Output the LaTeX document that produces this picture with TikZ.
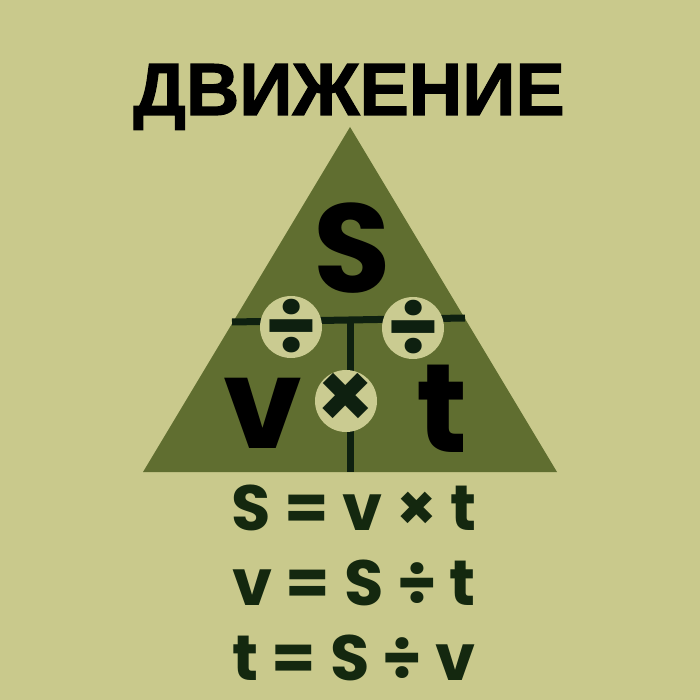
\documentclass[tikz,border=0pt]{standalone}
\usepackage{fontspec}
\newfontfamily\pop{Poppins}
\newfontfamily\libb{Liberation Sans Bold}[FakeBold=1.6]
\definecolor{bg}{HTML}{C9C98C}
\definecolor{tric}{HTML}{606E30}
\definecolor{lightc}{HTML}{CACB91}
\definecolor{dark}{HTML}{0E2010}
\definecolor{ftext}{HTML}{14280F}
\tikzset{
  bar/.style={draw=dark, line width=7pt},
  opc/.style={circle, fill=lightc, minimum size=62pt, inner sep=0pt},
  opsym/.style={inner sep=0pt, text=dark, font=\pop\bfseries\fontsize{84}{84}\selectfont},
  bigletter/.style={anchor=base, inner sep=0pt, text=black, font=\pop\bfseries\fontsize{126}{126}\selectfont},
  formula/.style={anchor=base, inner sep=0pt, text=ftext, font=\pop\bfseries\fontsize{64}{64}\selectfont},
  titletext/.style={anchor=base, inner sep=0pt, text=black, font=\libb\fontsize{74}{74}\selectfont}
}
\begin{document}
\begin{tikzpicture}[x=1pt,y=-1pt]
\fill[bg] (0,0) rectangle (700,700);
\useasboundingbox (0,0) rectangle (700,700);
\node[titletext] (title) at (349,115) {ДВИЖЕНИЕ};
\coordinate (A) at (350,127);
\coordinate (L) at (143,472);
\coordinate (R) at (557,472);
\fill[tric] (A) -- (L) -- (R) -- cycle;
\coordinate (hl) at (232,322);
\coordinate (hr) at (465,318);
\coordinate (vt) at (350,320);
\coordinate (vb) at (350,472);
\draw[bar] (hl) -- (hr);
\draw[bar] (vt) -- (vb);
\node[bigletter] (S) at (352,292) {S};
\node[bigletter] (v) at (263,448) {v};
\node[bigletter] (t) at (442,452) {t};
\node[opc] (d1) at (291,327) {};
\node[opc] (d2) at (413,328) {};
\node[opc] (m) at (346,401) {};
\node[opsym] (d1s) at (d1.center) {÷};
\node[opsym] (d2s) at (d2.center) {÷};
\node[opsym, font=\pop\bfseries\fontsize{92}{92}\selectfont] (ms) at (m.center) {×};
\node[formula] (f1) at (354,530) {S = v × t};
\node[formula] (f2) at (354,605) {v = S ÷ t};
\node[formula] (f3) at (354,680) {t = S ÷ v};
\end{tikzpicture}
\end{document}
